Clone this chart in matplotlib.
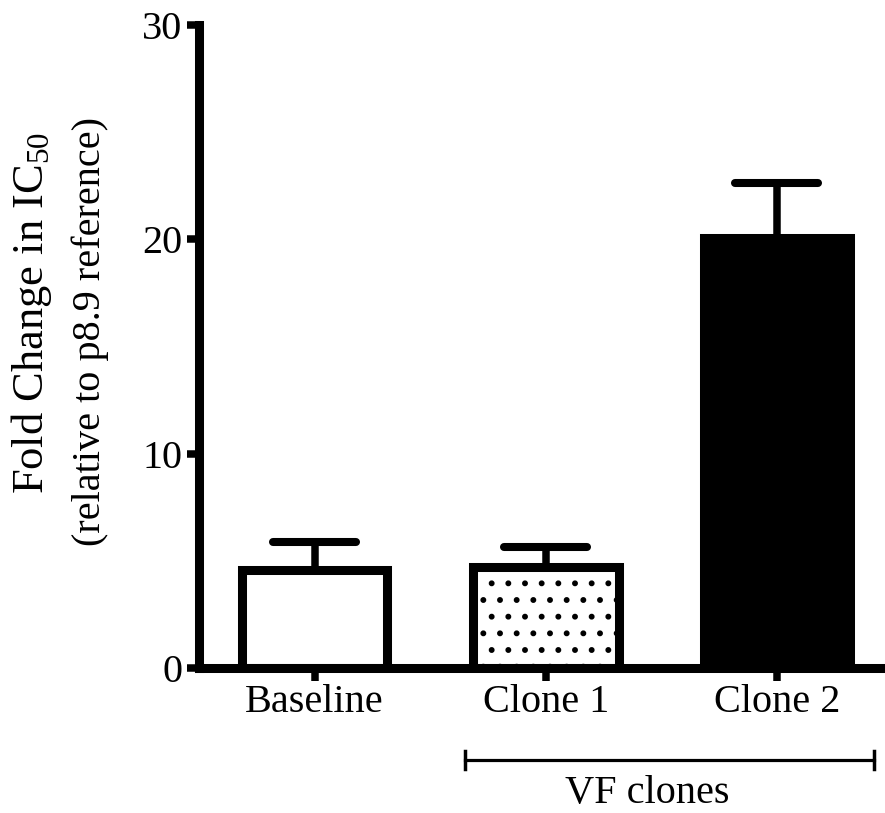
import matplotlib
matplotlib.use("Agg")
import matplotlib.pyplot as plt

categories = ["Baseline", "Clone 1", "Clone 2"]
fold_change = [4.57, 4.73, 20.05]
err_upper = [1.32, 0.91, 2.55]
y_ticks = [0, 10, 20, 30]
group_label = "VF clones"

plt.rcParams['font.family'] = ['Liberation Serif', 'DejaVu Serif']
plt.rcParams['mathtext.fontset'] = 'custom'
plt.rcParams['mathtext.rm'] = 'Liberation Serif'
plt.rcParams['mathtext.it'] = 'Liberation Serif'
plt.rcParams['mathtext.default'] = 'rm'
plt.rcParams['hatch.color'] = 'black'
plt.rcParams['hatch.linewidth'] = 1.8

fs = 29
lw = 6.5

fig = plt.figure(figsize=(8.85, 8.13), dpi=100)
ax = fig.add_axes([199 / 885, 145 / 813, 1 - 199 / 885, 0.7915])

x = list(range(len(categories)))
faces = ['white', 'white', 'black']
hatches = [None, '.', None]

# error stems (upper only) drawn under the bars
for xi, v, e in zip(x, fold_change, err_upper):
    ax.plot([xi, xi], [v, v + e], color='black', lw=5.4, zorder=1,
            solid_capstyle='butt')
caps = ax.hlines([v + e for v, e in zip(fold_change, err_upper)],
                 [xi - 0.18 for xi in x], [xi + 0.18 for xi in x],
                 color='black', lw=5.8, zorder=1)
caps.set_capstyle('round')

bars = ax.bar(x, fold_change, width=0.63, color=faces, edgecolor='black',
              linewidth=lw, zorder=2)
for b, h in zip(bars, hatches):
    if h:
        b.set_hatch(h)
    b.set_joinstyle('miter')

ax.set_xlim(-0.5, 2.468)
ax.set_ylim(0, 30)
ax.set_yticks(y_ticks)
ax.set_xticks(x)
ax.set_xticklabels(categories, fontsize=fs)
ax.tick_params(axis='y', labelsize=fs, length=9, width=5.4, pad=3)
ax.tick_params(axis='x', labelsize=fs, length=9.4, width=5.4, pad=2)

for s in ['top', 'right']:
    ax.spines[s].set_visible(False)
for s in ['left', 'bottom']:
    ax.spines[s].set_linewidth(lw)
    ax.spines[s].set_capstyle('projecting')
    ax.spines[s].set_zorder(3)

# y label, two lines
fig.text(43 / 885, 1 - 313 / 813, "Fold Change in IC$_{50}$", fontsize=32,
         rotation=90, rotation_mode='anchor', ha='center', va='baseline')
fig.text(100 / 885, 1 - 332 / 813, "(relative to p8.9 reference)", fontsize=fs,
         rotation=90, rotation_mode='anchor', ha='center', va='baseline')

# group bracket under clones
bx0, bx1, by, bh = 0.649, 2.42, -4.29, 0.42
ax.plot([bx0, bx1], [by, by], color='black', lw=2.3, clip_on=False)
ax.plot([bx0, bx0], [by - bh, by + bh], color='black', lw=2.5, clip_on=False)
ax.plot([bx1, bx1], [by - bh, by + bh], color='black', lw=2.5, clip_on=False)
ax.text(1.44, -6.29, group_label, fontsize=fs, ha='center', va='baseline')

fig.savefig("out.png", dpi=100)
